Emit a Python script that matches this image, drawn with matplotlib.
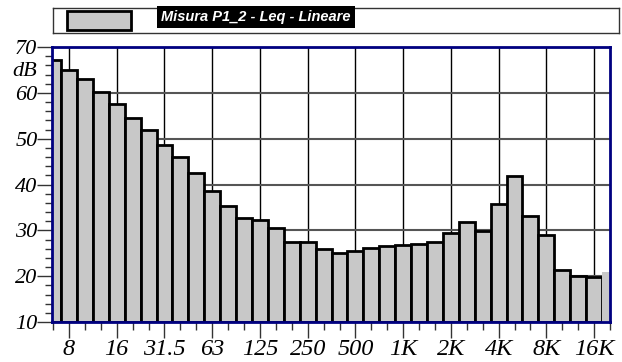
import matplotlib
matplotlib.use("Agg")
import matplotlib.pyplot as plt
import numpy as np
from matplotlib.patches import Rectangle

# -------------------------------
# Data (1/3 octave bands, Leq in dB)
# -------------------------------
bands = ["6.3", "8", "10", "12.5", "16", "20", "25", "31.5", "40", "50",
         "63", "80", "100", "125", "160", "200", "250", "315", "400", "500",
         "630", "800", "1K", "1.25K", "1.6K", "2K", "2.5K", "3.15K", "4K", "5K",
         "6.3K", "8K", "10K", "12.5K", "16K", "20K"]
leq = [67.1, 64.9, 63.0, 60.1, 57.5, 54.5, 51.8, 48.6, 46.1, 42.5,
       38.6, 35.4, 32.8, 32.3, 30.5, 27.5, 27.5, 26.0, 25.1, 25.6,
       26.2, 26.5, 26.8, 27.1, 27.5, 29.4, 31.9, 29.9, 35.7, 41.8,
       33.2, 28.9, 21.3, 20.1, 19.9, 20.9]
tick_labels = ["8", "16", "31.5", "63", "125", "250", "500", "1K", "2K", "4K", "8K", "16K"]
legend_label = "Misura P1_2 - Leq - Lineare"

navy = "#000080"
bar_gray = "#c8c8c8"
serif = ["Liberation Serif", "DejaVu Serif"]

W, H = 622, 362
fig = plt.figure(figsize=(W / 100, H / 100), dpi=100)
fig.patch.set_facecolor("white")

# -------------------------------
# Main axes
# -------------------------------
ax = fig.add_axes([52 / W, (H - 322) / H, (610 - 52) / W, (322 - 47) / H])
x = np.arange(len(bands))
base = 10
bars = ax.bar(x, np.array(leq) - base, bottom=base, width=1.0,
              color=bar_gray, edgecolor="black", linewidth=2, zorder=2)
bars[-1].set_edgecolor("none")

ax.set_xlim(-0.07, 34.96)
ax.set_ylim(10, 70)

major_idx = [bands.index(t) for t in tick_labels]
ax.set_xticks(major_idx)
ax.set_xticklabels(tick_labels)
ax.set_xticks(x, minor=True)
ax.set_yticks(range(10, 71, 10))
ax.set_yticks(range(10, 71, 2), minor=True)

ax.tick_params(axis="x", which="major", length=11.5, width=1, color="#333333", pad=1)
ax.tick_params(axis="x", which="minor", length=5.8, width=1, color="#333333")
ax.tick_params(axis="y", which="major", length=10.5, width=1, color="#333333", pad=0)
ax.tick_params(axis="y", which="minor", length=5, width=1, color="#333333")

for lab in ax.get_yticklabels():
    lab.set_family(serif)
    lab.set_style("italic")
    lab.set_fontsize(16)
for lab in ax.get_xticklabels():
    lab.set_family(serif)
    lab.set_style("italic")
    lab.set_fontsize(17.5)

ax.grid(axis="x", which="major", color="black", linewidth=1, zorder=1)
ax.grid(axis="y", which="major", color="#555555", linewidth=1.5, zorder=1)
ax.set_axisbelow(True)

for s in ax.spines.values():
    s.set_color(navy)
    s.set_linewidth(2)
    s.set_zorder(3)

ax.text(-0.027, 64.6, "dB", transform=ax.get_yaxis_transform(), ha="right", va="center",
        family=serif, style="italic", fontsize=16)

# -------------------------------
# Legend box
# -------------------------------
lg = fig.add_axes([53 / W, (H - 33) / H, (619 - 53) / W, (33 - 8) / H])
lg.set_xlim(53, 619)
lg.set_ylim(33, 8)
lg.set_xticks([])
lg.set_yticks([])
for s in lg.spines.values():
    s.set_color("#333333")
    s.set_linewidth(1)
lg.add_patch(Rectangle((67, 10.5), 64, 19, facecolor=bar_gray, edgecolor="black", linewidth=2))
lg.text(161, 17, legend_label, ha="left", va="center", color="white",
        fontsize=10.5, fontweight="bold", style="italic",
        family=["Liberation Sans", "DejaVu Sans"], clip_on=False,
        bbox=dict(boxstyle="square,pad=0.3", facecolor="black", edgecolor="none"))

plt.savefig("out.png", dpi=100)
plt.close()
